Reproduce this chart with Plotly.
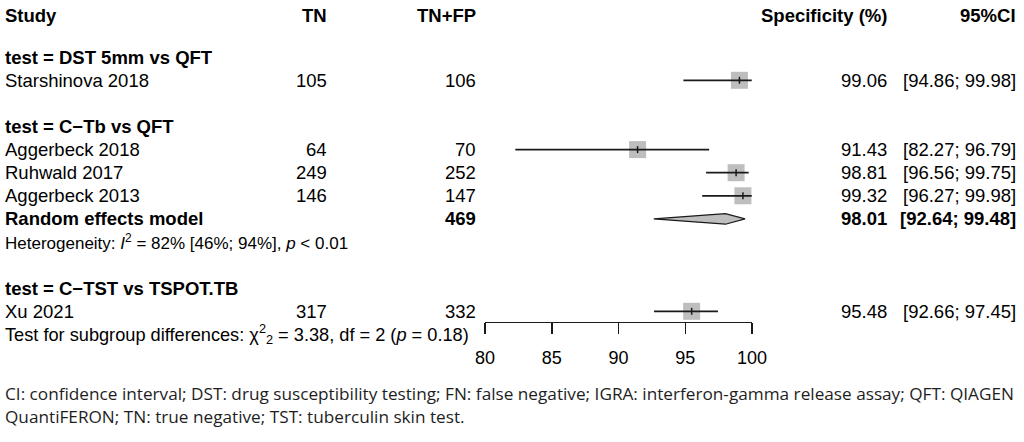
import plotly.graph_objects as go

# ---------------- data ----------------
studies = ["Starshinova 2018", "Aggerbeck 2018", "Ruhwald 2017", "Aggerbeck 2013", "Xu 2021"]
tn = [105, 64, 249, 146, 317]
tn_fp = [106, 70, 252, 147, 332]
spec = [99.06, 91.43, 98.81, 99.32, 95.48]
ci_lo = [94.86, 82.27, 96.56, 96.27, 92.66]
ci_hi = [99.98, 96.79, 99.75, 99.98, 97.45]

groups = ["test = DST 5mm vs QFT", "test = C\u2212Tb vs QFT", "test = C\u2212TST vs TSPOT.TB"]

re_label = "Random effects model"
re_total = 469
re_est = 98.01
re_lo = 92.64
re_hi = 99.48

het_text = "Heterogeneity: <i>I</i><sup>2</sup> = 82% [46%; 94%], <i>p</i> &lt; 0.01"
subgroup_text = "Test for subgroup differences: \u03c7<sup>2</sup><sub>2</sub> = 3.38, df = 2 (<i>p</i> = 0.18)"

x_ticks = [80, 85, 90, 95, 100]
headers = ["Study", "TN", "TN+FP", "Specificity (%)", "95%CI"]
caption_lines = [
    "CI: confidence interval; DST: drug susceptibility testing; FN: false negative; IGRA: interferon-gamma release assay; QFT: QIAGEN",
    "QuantiFERON; TN: true negative; TST: tuberculin skin test.",
]

# ---------------- layout constants ----------------
W, H = 1024, 442
ROW0, ROWH = 11.0, 23.1          # pixel y of row 0 and row height
study_rows = [3, 6, 7, 8, 13]
group_rows = [2, 5, 12]
re_row, het_row, sub_row = 9, 10, 14
header_row = (15 - ROW0) / ROWH

X_PIX = [485, 752]              # pixel span of 80..100
AXIS_Y_PIX = 321.7

col_study = 4
col_tn = 328
col_tnfp = 477
col_spec = 888
col_ci = 1017

FONT = "Liberation Sans, Arial, Helvetica, sans-serif"
FS = 18.5
FS_HET = 17
FS_SUB = 18.2
GRAY = "#BEBEBE"
INK = "#1a1a1a"


def px(x):
    return x / W


y_top = -ROW0 / ROWH
y_bot = (H - ROW0) / ROWH

fig = go.Figure()

# squares
fig.add_trace(go.Scatter(
    x=spec, y=study_rows, mode="markers",
    marker=dict(symbol="square", size=17, color=GRAY, line=dict(width=0)),
    cliponaxis=False, hoverinfo="skip", showlegend=False))

# CI lines
cx, cy = [], []
for lo, hi, r in zip(ci_lo, ci_hi, study_rows):
    cx += [lo, hi, None]
    cy += [r, r, None]
fig.add_trace(go.Scatter(x=cx, y=cy, mode="lines", line=dict(color=INK, width=1.8),
                         cliponaxis=False, hoverinfo="skip", showlegend=False))

# small vertical tick at estimate
tx, ty = [], []
for e, r in zip(spec, study_rows):
    tx += [e, e, None]
    ty += [r - 0.15, r + 0.15, None]
fig.add_trace(go.Scatter(x=tx, y=ty, mode="lines", line=dict(color=INK, width=1.5),
                         cliponaxis=False, hoverinfo="skip", showlegend=False))

# diamond
dh = 0.23
fig.add_trace(go.Scatter(
    x=[re_lo, re_est, re_hi, re_est, re_lo],
    y=[re_row, re_row - dh, re_row, re_row + dh, re_row],
    mode="lines", fill="toself", fillcolor=GRAY,
    line=dict(color=INK, width=1.2), cliponaxis=False,
    hoverinfo="skip", showlegend=False))

ann = []


def text(x, y, s, anchor="left", size=FS, yref="y", family=FONT, color="black"):
    ann.append(dict(x=px(x), y=y, xref="paper", yref=yref, text=s, showarrow=False,
                    xanchor=anchor, yanchor="middle",
                    font=dict(family=family, size=size, color=color), borderpad=0))


# headers
hdr_x = [col_study, col_tn, col_tnfp, col_spec, col_ci]
hdr_anchor = ["left", "right", "right", "right", "right"]
for h, x, a in zip(headers, hdr_x, hdr_anchor):
    text(x, header_row, "<b>%s</b>" % h, a)

for g, r in zip(groups, group_rows):
    text(col_study, r, "<b>%s</b>" % g)

for s, a, b, e, lo, hi, r in zip(studies, tn, tn_fp, spec, ci_lo, ci_hi, study_rows):
    text(col_study, r, s)
    text(col_tn, r, str(a), "right")
    text(col_tnfp, r, str(b), "right")
    text(col_spec, r, "%.2f" % e, "right")
    text(col_ci, r, "[%.2f; %.2f]" % (lo, hi), "right")

text(col_study, re_row, "<b>%s</b>" % re_label)
text(col_tnfp, re_row, "<b>%d</b>" % re_total, "right")
text(col_spec, re_row, "<b>%.2f</b>" % re_est, "right")
text(col_ci, re_row, "<b>[%.2f; %.2f]</b>" % (re_lo, re_hi), "right")

text(col_study, het_row, het_text, size=FS_HET)
text(col_study, sub_row, subgroup_text, size=FS_SUB)

cap_y = [393.5, 416.7]
for line, yp in zip(caption_lines, cap_y):
    text(4, 1 - yp / H, line, yref="paper", size=17.2, family="Open Sans, Noto Sans, sans-serif",
         color="#1e1e1e")

fig.update_layout(
    width=W, height=H, autosize=False,
    margin=dict(l=0, r=0, t=0, b=0, pad=0, autoexpand=False),
    paper_bgcolor="white", plot_bgcolor="white",
    showlegend=False,
    annotations=ann,
    xaxis=dict(
        domain=[px(X_PIX[0]), px(X_PIX[1])], range=[80, 100],
        anchor="free", position=1 - AXIS_Y_PIX / H, automargin=False,
        showline=True, linecolor=INK, linewidth=1.5,
        ticks="outside", ticklen=11, tickwidth=1.5, tickcolor=INK,
        tickvals=x_ticks, ticktext=[str(t) for t in x_ticks],
        tickfont=dict(family=FONT, size=18, color="black"),
        ticklabelstandoff=8,
        showgrid=False, zeroline=False, fixedrange=True,
    ),
    yaxis=dict(
        domain=[0, 1], range=[y_bot, y_top], visible=False, automargin=False,
        showgrid=False, zeroline=False, fixedrange=True,
    ),
)

fig.write_html(
    "out.html",
    config={"displayModeBar": False, "responsive": False, "staticPlot": True},
    post_script="document.body.style.margin='0';document.body.style.overflow='hidden';"
                "document.documentElement.style.overflow='hidden';",
)
